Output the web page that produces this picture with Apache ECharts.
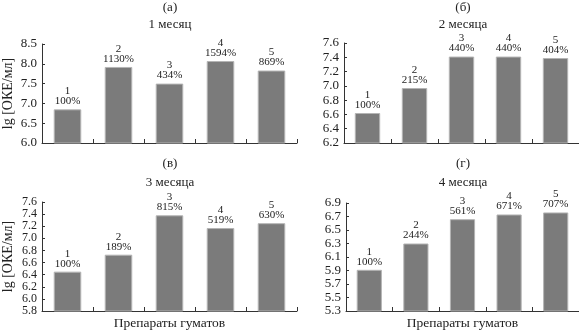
<!DOCTYPE html>
<html>
<head>
<meta charset="utf-8">
<script src="https://cdn.jsdelivr.net/npm/echarts@6/dist/echarts.min.js"></script>
<style>
  html, body { margin: 0; padding: 0; background: #fff; }
  #chart { width: 579px; height: 331px; }
</style>
</head>
<body>
<div id="chart"></div>
<script>
// Humate preparations, numbered 1–5
const categories = ['1', '2', '3', '4', '5'];

// lg [CFU/ml] per preparation at each sampling month
const month1Values = [6.85, 7.92, 7.50, 8.07, 7.83];
const month2Values = [6.62, 6.97, 7.41, 7.41, 7.39];
const month3Values = [6.45, 6.73, 7.38, 7.17, 7.25];
const month4Values = [5.91, 6.30, 6.66, 6.73, 6.76];

// Percent relative to preparation 1
const month1Percent = [100, 1130, 434, 1594, 869];
const month2Percent = [100, 215, 440, 440, 404];
const month3Percent = [100, 189, 815, 519, 630];
const month4Percent = [100, 244, 561, 671, 707];

// Panel letters and titles
const panelLetters = ['(а)', '(б)', '(в)', '(г)'];
const panelTitles = ['1 месяц', '2 месяца', '3 месяца', '4 месяца'];

// Y-axis tick values per panel
const month1Ticks = [6.0, 6.5, 7.0, 7.5, 8.0, 8.5];
const month2Ticks = [6.2, 6.4, 6.6, 6.8, 7.0, 7.2, 7.4, 7.6];
const month3Ticks = [5.8, 6.0, 6.2, 6.4, 6.6, 6.8, 7.0, 7.2, 7.4, 7.6];
const month4Ticks = [5.3, 5.5, 5.7, 5.9, 6.1, 6.3, 6.5, 6.7, 6.9];

const yAxisName = 'lg [ОКЕ/мл]';
const xAxisName = 'Препараты гуматов';

const FONT = '"Liberation Serif", "DejaVu Serif", serif';
const TEXT = '#222';
const AXIS = '#333';

const values = [month1Values, month2Values, month3Values, month4Values];
const percents = [month1Percent, month2Percent, month3Percent, month4Percent];
const ticks = [month1Ticks, month2Ticks, month3Ticks, month4Ticks];

const grids = [
  { left: 42, width: 255, top: 44, height: 99 },
  { left: 344, width: 235, top: 43, height: 100 },
  { left: 42, width: 255, top: 202, height: 110 },
  { left: 346, width: 233, top: 203, height: 108 }
];

const titleCenters = [170, 463, 170, 463];
const titleTops = [[1, 18], [1, 18], [157, 176], [157, 176]];

const option = {
  animation: false,
  backgroundColor: '#fff',
  title: [],
  grid: grids.map(g => Object.assign({ containLabel: false }, g)),
  xAxis: [],
  yAxis: [],
  series: []
};

for (let i = 0; i < 4; i++) {
  option.title.push({
    text: panelLetters[i],
    left: titleCenters[i], top: titleTops[i][0], textAlign: 'center', padding: 0,
    textStyle: { fontFamily: FONT, fontSize: 13, fontWeight: 'normal', color: TEXT }
  });
  option.title.push({
    text: panelTitles[i],
    left: titleCenters[i], top: titleTops[i][1], textAlign: 'center', padding: 0,
    textStyle: { fontFamily: FONT, fontSize: 13, fontWeight: 'normal', color: TEXT }
  });

  const bottomRow = i >= 2;
  option.xAxis.push({
    type: 'category',
    gridIndex: i,
    data: categories,
    boundaryGap: true,
    name: bottomRow ? xAxisName : '',
    nameLocation: 'middle',
    nameGap: 5,
    nameTextStyle: { fontFamily: FONT, fontSize: 13.5, color: TEXT },
    axisLine: { lineStyle: { color: AXIS, width: 1 } },
    axisTick: { show: true, inside: true, length: 4, alignWithLabel: false, lineStyle: { color: AXIS } },
    axisLabel: { show: false },
    splitLine: { show: false }
  });

  const t = ticks[i];
  const step = Math.round((t[1] - t[0]) * 10) / 10;
  // Regular steps when the first tick is a whole multiple of the step,
  // otherwise list the tick values explicitly.
  const regular = Math.abs(Math.round(t[0] / step) * step - t[0]) < 1e-9;
  const leftCol = i % 2 === 0;
  // The densest axis (ten ticks) gets a slightly smaller label font.
  const labelSize = t.length > 9 ? 12 : 13;
  const yAxis = {
    type: 'value',
    gridIndex: i,
    min: t[0],
    max: t[t.length - 1],
    name: leftCol ? yAxisName : '',
    nameLocation: 'middle',
    nameRotate: 90,
    nameGap: 27,
    nameTextStyle: { fontFamily: FONT, fontSize: 14, color: TEXT },
    axisLine: { show: true, lineStyle: { color: AXIS, width: 1 } },
    axisTick: { show: true, inside: true, length: 3, interval: 0, lineStyle: { color: AXIS } },
    axisLabel: {
      interval: 0,
      showMinLabel: true,
      showMaxLabel: true,
      hideOverlap: false,
      fontFamily: FONT, fontSize: labelSize, lineHeight: labelSize, color: TEXT, margin: 5,
      formatter: v => Number(v).toFixed(1)
    },
    splitLine: { show: false }
  };
  if (regular) {
    yAxis.interval = step;
  } else {
    yAxis.axisTick.customValues = t;
    yAxis.axisLabel.customValues = t;
  }
  option.yAxis.push(yAxis);

  const pct = percents[i];
  option.series.push({
    type: 'bar',
    xAxisIndex: i,
    yAxisIndex: i,
    data: values[i],
    barWidth: '54%',
    itemStyle: { color: '#7b7b7b', borderColor: '#b4b4b4', borderWidth: 1 },
    label: {
      show: true,
      position: 'top',
      distance: 3,
      fontFamily: FONT,
      fontSize: 11,
      lineHeight: 10,
      color: TEXT,
      formatter: p => categories[p.dataIndex] + '\n' + pct[p.dataIndex] + '%'
    }
  });
}

const chart = echarts.init(document.getElementById('chart'), null, { renderer: 'canvas' });
chart.setOption(option);
</script>
</body>
</html>
